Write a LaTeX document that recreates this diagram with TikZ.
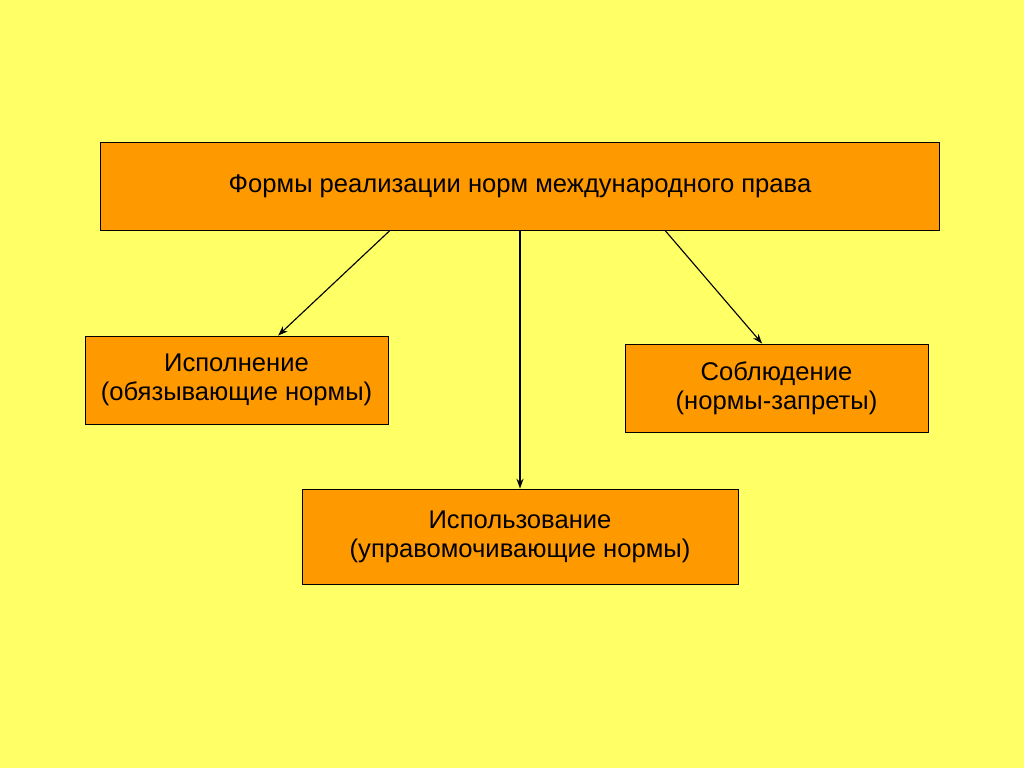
\documentclass[tikz,border=0pt]{standalone}
\usepackage{fontspec}
\setmainfont{Liberation Sans}
\usetikzlibrary{arrows.meta}
\definecolor{bgyellow}{HTML}{FFFF66}
\definecolor{boxorange}{HTML}{FF9900}

\begin{document}
\begin{tikzpicture}[> = {Stealth[length=7pt, width=5pt]}, % arrow head style
                x = 0.025cm, y = -0.025cm,
                semithick % line style
            ]

            \tikzstyle{every node}=[draw = black, fill = boxorange,
            rectangle, inner sep = 2pt, align = center,
            font = \fontsize{18.2}{20.6}\selectfont]

            % background
            \fill[bgyellow] (0,0) rectangle (1024,768);

            \node (forms) [minimum width = 20.95cm, minimum height = 2.2cm]
            at (520,186) {Формы реализации норм международного права};
            \node (ispoln) [minimum width = 7.575cm, minimum height = 2.2cm]
            at (236.5,380) {Исполнение\\(обязывающие нормы)};
            \node (soblud) [minimum width = 7.575cm, minimum height = 2.2cm]
            at (776.5,388) {Соблюдение\\(нормы-запреты)};
            \node (ispolz) [minimum width = 10.9cm, minimum height = 2.375cm]
            at (520,536.5) {Использование\\(управомочивающие нормы)};

            \path[->, line width = 0.8pt] ([xshift=-3.25cm]forms.south) edge
            ([xshift=1.04cm]ispoln.north); \path[->, line width = 0.8pt]
            (forms.south) edge (ispolz.north); \path[->, line width = 0.8pt]
            ([xshift=3.625cm]forms.south) edge
            ([xshift=-0.36cm]soblud.north); \end{tikzpicture}
\end{document}
